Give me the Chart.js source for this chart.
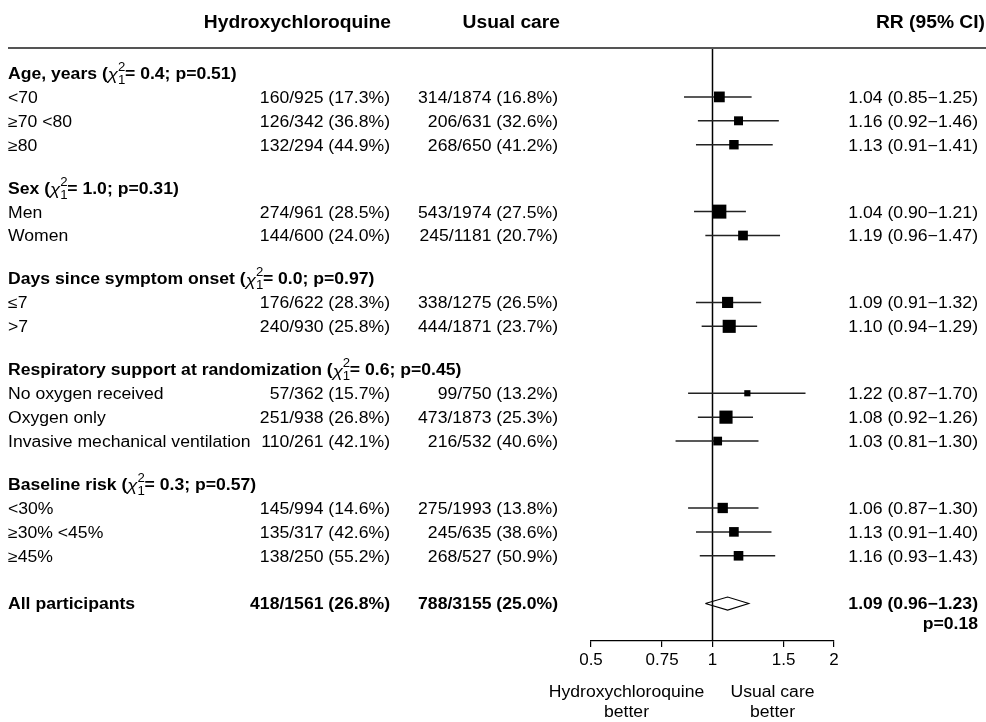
<!DOCTYPE html>
<html>
<head>
<meta charset="utf-8">
<script src="https://cdn.jsdelivr.net/npm/chart.js@4.4.1/dist/chart.umd.min.js"></script>
<style>
  html, body { margin: 0; padding: 0; background: #fff; }
  #wrap { width: 986px; height: 722px; }
</style>
</head>
<body>
<div id="wrap"><canvas id="forest"></canvas></div>
<script>
// Subgroup headings and heterogeneity tests
const groupNames = ['Age, years', 'Sex', 'Days since symptom onset', 'Respiratory support at randomization', 'Baseline risk'];
const groupChi = ['0.4', '1.0', '0.0', '0.6', '0.3'];
const groupP = ['0.51', '0.31', '0.97', '0.45', '0.57'];
const groupCounts = [3, 2, 2, 3, 3];

// Subgroup rows
const rowLabels = ['<70', '≥70 <80', '≥80', 'Men', 'Women', '≤7', '>7',
    'No oxygen received', 'Oxygen only', 'Invasive mechanical ventilation',
    '<30%', '≥30% <45%', '≥45%'];
const hcqText = ['160/925 (17.3%)', '126/342 (36.8%)', '132/294 (44.9%)', '274/961 (28.5%)', '144/600 (24.0%)',
    '176/622 (28.3%)', '240/930 (25.8%)', '57/362 (15.7%)', '251/938 (26.8%)', '110/261 (42.1%)',
    '145/994 (14.6%)', '135/317 (42.6%)', '138/250 (55.2%)'];
const usualText = ['314/1874 (16.8%)', '206/631 (32.6%)', '268/650 (41.2%)', '543/1974 (27.5%)', '245/1181 (20.7%)',
    '338/1275 (26.5%)', '444/1871 (23.7%)', '99/750 (13.2%)', '473/1873 (25.3%)', '216/532 (40.6%)',
    '275/1993 (13.8%)', '245/635 (38.6%)', '268/527 (50.9%)'];
const rr = [1.04, 1.16, 1.13, 1.04, 1.19, 1.09, 1.10, 1.22, 1.08, 1.03, 1.06, 1.13, 1.16];
const rrLow = [0.85, 0.92, 0.91, 0.90, 0.96, 0.91, 0.94, 0.87, 0.92, 0.81, 0.87, 0.91, 0.93];
const rrHigh = [1.25, 1.46, 1.41, 1.21, 1.47, 1.32, 1.29, 1.70, 1.26, 1.30, 1.30, 1.40, 1.43];

// Overall
const totalLabel = 'All participants';
const totalHcq = '418/1561 (26.8%)';
const totalUsual = '788/3155 (25.0%)';
const totalRR = 1.09;
const totalLow = 0.96;
const totalHigh = 1.23;
const totalP = 'p=0.18';

// Axis
const tickValues = [0.5, 0.75, 1, 1.5, 2];
const tickLabels = ['0.5', '0.75', '1', '1.5', '2'];

const FONT = '"Liberation Sans", Arial, sans-serif';
const STRETCH = 1.1;
const TEXT_DY = 1.5;

// Row layout: heading, its rows, then a gap
const headerRows = [];
const itemRows = [];
let k = 0;
groupCounts.forEach(n => {
    headerRows.push(k);
    for (let i = 1; i <= n; i++) itemRows.push(k + i);
    k += n + 1.8;
});
const totalRow = itemRows[itemRows.length - 1] + 2;

const Y_MIN = -25 / 23.9;
const Y_MAX = Y_MIN + 593 / 23.9;

const fmt = v => v.toFixed(2);
const ciText = i => `${fmt(rr[i])} (${fmt(rrLow[i])}\u2212${fmt(rrHigh[i])})`;
const boxSide = (lo, hi) => 4.14 / Math.log(hi / lo);

// Datasets
const datasets = [];
datasets.push({
    data: rr.map((v, i) => ({ x: v, y: itemRows[i] })),
    pointStyle: 'rect',
    pointRadius: rr.map((v, i) => boxSide(rrLow[i], rrHigh[i]) / (2 * Math.SQRT1_2)),
    pointBackgroundColor: '#000',
    pointBorderWidth: 0,
    showLine: false,
    order: 0
});
rr.forEach((v, i) => {
    datasets.push({
        data: [{ x: rrLow[i], y: itemRows[i] }, { x: rrHigh[i], y: itemRows[i] }],
        showLine: true,
        borderColor: '#222',
        borderWidth: 1.5,
        pointRadius: 0,
        order: 1
    });
});
const dh = 6.5 / 23.9;
datasets.push({
    data: [
        { x: totalLow, y: totalRow },
        { x: totalRR, y: totalRow - dh },
        { x: totalHigh, y: totalRow },
        { x: totalRR, y: totalRow + dh },
        { x: totalLow, y: totalRow }
    ],
    showLine: true,
    borderColor: '#000',
    borderWidth: 1.1,
    pointRadius: 0,
    fill: false,
    order: 1
});
datasets.push({
    data: [{ x: 1, y: Y_MIN }, { x: 1, y: Y_MAX }],
    showLine: true,
    borderColor: '#000',
    borderWidth: 1.5,
    pointRadius: 0,
    order: 2
});

// Text helper (returns drawn width)
function txt(ctx, s, x, y, align, font) {
    ctx.save();
    ctx.font = font;
    ctx.fillStyle = '#000';
    ctx.textAlign = align;
    ctx.textBaseline = 'middle';
    ctx.translate(x, y + TEXT_DY);
    ctx.scale(STRETCH, 1);
    ctx.fillText(s, 0, 0);
    const w = ctx.measureText(s).width * STRETCH;
    ctx.restore();
    return w;
}

function drawGroupHeader(ctx, name, chi, p, x, y) {
    let cx = x;
    cx += txt(ctx, name + ' (', cx, y, 'left', 'bold 16px ' + FONT);
    cx += txt(ctx, '\u03c7', cx, y + 1, 'left', 'italic 17px ' + FONT);
    txt(ctx, '2', cx, y - 7, 'left', '12px ' + FONT);
    txt(ctx, '1', cx, y + 6, 'left', '12px ' + FONT);
    cx += 7;
    txt(ctx, '= ' + chi + '; p=' + p + ')', cx, y, 'left', 'bold 16px ' + FONT);
}

const tablePlugin = {
    id: 'forestTable',
    afterDraw(chart) {
        const ctx = chart.ctx;
        const ys = chart.scales.y;
        const xs = chart.scales.x;
        const reg = '16px ' + FONT;
        const bold = 'bold 16px ' + FONT;
        const head = 'bold 17.5px ' + FONT;

        // Column headings
        txt(ctx, 'Hydroxychloroquine', 391, 22, 'right', head);
        txt(ctx, 'Usual care', 560, 22, 'right', head);
        txt(ctx, 'RR (95% CI)', 985, 22, 'right', head);
        ctx.save();
        ctx.strokeStyle = '#555';
        ctx.lineWidth = 2;
        ctx.beginPath();
        ctx.moveTo(8, 48);
        ctx.lineTo(986, 48);
        ctx.stroke();
        ctx.restore();

        groupNames.forEach((name, g) => {
            drawGroupHeader(ctx, name, groupChi[g], groupP[g], 8, ys.getPixelForValue(headerRows[g]));
        });

        rowLabels.forEach((label, i) => {
            const y = ys.getPixelForValue(itemRows[i]);
            txt(ctx, label, 8, y, 'left', reg);
            txt(ctx, hcqText[i], 390, y, 'right', reg);
            txt(ctx, usualText[i], 558, y, 'right', reg);
            txt(ctx, ciText(i), 978, y, 'right', reg);
        });

        const yt = ys.getPixelForValue(totalRow);
        txt(ctx, totalLabel, 8, yt, 'left', bold);
        txt(ctx, totalHcq, 390, yt, 'right', bold);
        txt(ctx, totalUsual, 558, yt, 'right', bold);
        txt(ctx, `${fmt(totalRR)} (${fmt(totalLow)}\u2212${fmt(totalHigh)})`, 978, yt, 'right', bold);
        txt(ctx, totalP, 978, yt + 20, 'right', bold);

        // Direction labels
        const x1 = xs.getPixelForValue(1);
        txt(ctx, 'Hydroxychloroquine', x1 - 86, 691, 'center', reg);
        txt(ctx, 'better', x1 - 86, 711, 'center', reg);
        txt(ctx, 'Usual care', x1 + 60, 691, 'center', reg);
        txt(ctx, 'better', x1 + 60, 711, 'center', reg);
    }
};

Chart.defaults.font.family = FONT;
Chart.defaults.color = '#000';

new Chart(document.getElementById('forest'), {
    type: 'scatter',
    data: { datasets: datasets },
    plugins: [tablePlugin],
    options: {
        responsive: true,
        maintainAspectRatio: false,
        animation: false,
        layout: { padding: { left: 591, right: 152, top: 48, bottom: 0 } },
        plugins: {
            legend: { display: false },
            tooltip: { enabled: false }
        },
        scales: {
            x: {
                type: 'logarithmic',
                position: 'bottom',
                min: 0.5,
                max: 2,
                afterBuildTicks: s => { s.ticks = tickValues.map(v => ({ value: v })); },
                afterFit: s => { s.height = 81; },
                ticks: {
                    autoSkip: false,
                    maxRotation: 0,
                    padding: 3,
                    color: '#000',
                    font: { size: 17 },
                    callback: (v, i) => tickLabels[i]
                },
                grid: {
                    display: true,
                    drawOnChartArea: false,
                    drawTicks: true,
                    tickLength: 6,
                    color: '#000',
                    lineWidth: 1.2
                },
                border: { display: true, color: '#000', width: 1.2 }
            },
            y: {
                type: 'linear',
                reverse: true,
                display: false,
                min: Y_MIN,
                max: Y_MAX
            }
        }
    }
});
</script>
</body>
</html>
